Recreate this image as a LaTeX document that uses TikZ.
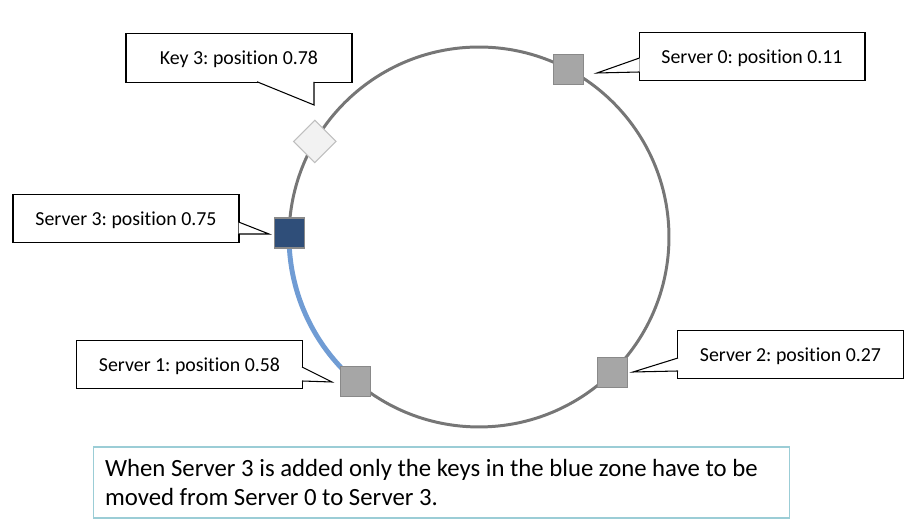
\documentclass[tikz,border=0pt]{standalone}
\usepackage{fontspec}
\setmainfont{Carlito}[Ligatures=NoCommon]
\usetikzlibrary{calc}
\definecolor{ringgray}{RGB}{118,118,118}
\definecolor{zoneblue}{RGB}{112,156,212}
\definecolor{srvgray}{RGB}{166,166,166}
\definecolor{srvedge}{RGB}{137,137,137}
\definecolor{newsrv}{RGB}{47,78,121}
\definecolor{keyfill}{RGB}{242,242,242}
\definecolor{keyedge}{RGB}{191,191,191}
\definecolor{notecyan}{RGB}{155,205,214}
\frenchspacing

\begin{document}
\begin{tikzpicture}[x=0.02cm, y=0.02cm,
    server/.style={draw=srvedge, fill=srvgray, line width=0.6pt, minimum size=0.6cm, inner sep=0pt},
    labelbox/.style={draw=black, fill=white, line width=0.6pt, minimum width=4.52cm, minimum height=0.97cm, inner sep=0pt, text depth=0pt, font=\fontsize{11.3}{13.5}\selectfont},
    pointer/.style={draw=black, line width=0.6pt, line join=miter}]
    \useasboundingbox (0,0) rectangle (922,526);

    % Hash ring
    \coordinate (c) at (479,289);
    \draw[ringgray, line width=1.7pt] (c) circle[radius=3.8cm];

    % Zone taken over by the new server
    \draw[zoneblue, line width=2.8pt] ($(c)+(178.8:3.8cm)$) arc[start angle=178.8, end angle=229.5, radius=3.8cm];

    % Servers and key on the ring
    \node[server] (s0) at ($(c)+(62:3.8cm)$) {};
    \node[server] (s2) at ($(c)+(-45.4:3.8cm)$) {};
    \node[server] (s1) at ($(c)+(-130.5:3.8cm)$) {};
    \node[server, fill=newsrv] (s3) at ($(c)+(178.8:3.8cm)$) {};
    \node[draw=keyedge, fill=keyfill, line width=0.6pt, minimum size=0.6cm, inner sep=0pt, rotate=45] (k3) at ($(c)+(149.8:3.8cm)$) {};

    % Callout boxes
    \node[labelbox] (bk3) at (239,468) {Key 3: position 0.78};
    \node[labelbox] (b0) at (752,469.5) {Server 0: position 0.11};
    \node[labelbox] (b3) at (126,307.5) {Server 3: position 0.75};
    \node[labelbox] (b1) at (189.5,161.5) {Server 1: position 0.58};
    \node[labelbox] (b2) at (790.5,171.5) {Server 2: position 0.27};

    % Callout pointers
    \coordinate (tk3) at (314,421);
    \coordinate (t0) at (597,453);
    \coordinate (t3) at (269,292);
    \coordinate (t1) at (332,144);
    \coordinate (t2) at (633,154);
    \fill[white] ($(bk3.south)+(18,1)$) -- (tk3) -- ($(bk3.south)+(75,1)$) -- cycle;
    \draw[pointer] ($(bk3.south)+(18,1)$) -- (tk3) -- ($(bk3.south)+(75,1)$);
    \fill[white] ($(b0.west)+(1,-1.5)$) -- (t0) -- ($(b0.west)+(1,-15.5)$) -- cycle;
    \draw[pointer] ($(b0.west)+(1,-1.5)$) -- (t0) -- ($(b0.west)+(1,-15.5)$);
    \fill[white] ($(b3.east)+(-1,-3.5)$) -- (t3) -- ($(b3.east)+(-1,-15.5)$) -- cycle;
    \draw[pointer] ($(b3.east)+(-1,-3.5)$) -- (t3) -- ($(b3.east)+(-1,-15.5)$);
    \fill[white] ($(b1.east)+(-1,-2.5)$) -- (t1) -- ($(b1.east)+(-1,-16.5)$) -- cycle;
    \draw[pointer] ($(b1.east)+(-1,-2.5)$) -- (t1) -- ($(b1.east)+(-1,-16.5)$);
    \fill[white] ($(b2.west)+(1,-3.5)$) -- (t2) -- ($(b2.west)+(1,-16.5)$) -- cycle;
    \draw[pointer] ($(b2.west)+(1,-3.5)$) -- (t2) -- ($(b2.west)+(1,-16.5)$);

    % Note
    \node[draw=notecyan, line width=0.6pt, minimum width=13.94cm, minimum height=1.42cm, inner xsep=0.24cm, text width=13.46cm, align=flush left, font=\fontsize{14.1}{17}\selectfont] (note) at (441.5,43.5)
        {When Server 3 is added only the keys in the blue zone have to be\\ moved from Server 0 to Server 3.};
\end{tikzpicture}
\end{document}
